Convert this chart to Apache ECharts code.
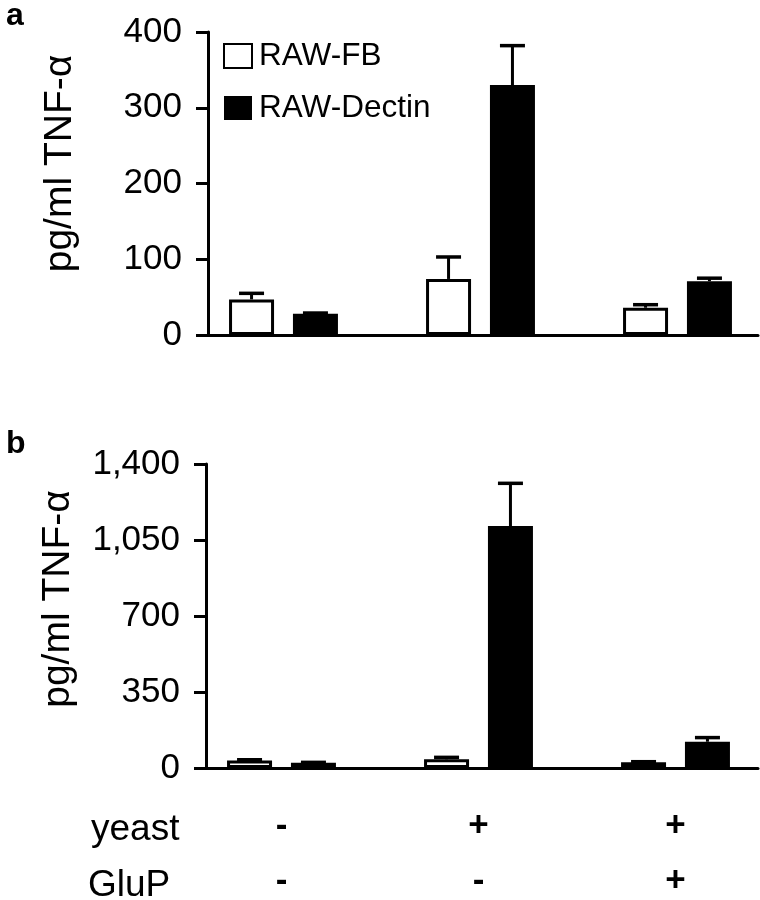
<!DOCTYPE html>
<html>
<head>
<meta charset="utf-8">
<script src="https://cdn.jsdelivr.net/npm/echarts@6/dist/echarts.min.js"></script>
<style>
html,body{margin:0;padding:0;background:#fff;}
#chart{width:760px;height:900px;}
</style>
</head>
<body>
<div id="chart"></div>
<script>
// ---- data ----
const yeastRow = ['-', '+', '+'];
const glupRow  = ['-', '-', '+'];
const seriesNames = ['RAW-FB', 'RAW-Dectin'];

// panel a
const fbA = [47, 74, 36];
const fbAErr = [8, 29, 4];
const dectinA = [28, 330, 71];
const dectinAErr = [1, 52, 4];
const yTicksA = [0, 100, 200, 300, 400];

// panel b
const fbB = [34, 40, 26];
const fbBErr = [4, 9, 3];
const dectinB = [24, 1114, 121];
const dectinBErr = [2, 197, 19];
const yTicksB = [0, 350, 700, 1050, 1400];

const yName = 'pg/ml TNF-\u03b1';

// ---- styles ----
const FONT = 'Liberation Sans, Arial, sans-serif';
const BAR_W = 45;
const BAR_GAP = 0.42;
const BAR_OFFSET = (BAR_W + BAR_W * BAR_GAP) / 2;
const CAP = 12.5;
const LW = 3;

const categories = yeastRow.map((y, i) => y + '\n' + glupRow[i]);

function errRender(sign) {
  return function (params, api) {
    const idx = api.value(0), mean = api.value(1), err = api.value(2);
    const base = api.coord([idx, mean]);
    const top = api.coord([idx, mean + err]);
    const x = base[0] + sign * BAR_OFFSET;
    return {
      type: 'group',
      children: [
        {type: 'line', shape: {x1: x, y1: base[1], x2: x, y2: top[1]}, style: {stroke: '#000', lineWidth: 3}},
        {type: 'line', shape: {x1: x - CAP, y1: top[1], x2: x + CAP, y2: top[1]}, style: {stroke: '#000', lineWidth: 3.5}}
      ]
    };
  };
}
function errData(vals, errs) { return vals.map((v, i) => [i, v, errs[i]]); }

const hiddenAxis = {axisLine: {show: false}, axisTick: {show: false}, axisLabel: {show: false}, splitLine: {show: false}};

function visibleY(grid, ticks, fmt, shiftUp) {
  return {
    gridIndex: grid, type: 'value',
    min: ticks[0], max: ticks[ticks.length - 1], interval: ticks[1] - ticks[0],
    axisLine: {show: true, lineStyle: {color: '#000', width: LW}},
    axisTick: {show: true, length: 12, lineStyle: {color: '#000', width: LW}},
    axisLabel: {color: '#000', fontSize: 35, fontFamily: FONT, margin: 26, formatter: fmt},
    splitLine: {show: false},
    name: yName, nameLocation: 'middle', nameGap: 128,
    nameTextStyle: {color: '#000', fontSize: 39, fontFamily: FONT, padding: [0, 0, 0, shiftUp]}
  };
}
function lineX(grid) {
  return {
    gridIndex: grid, type: 'value', min: 0, max: 1,
    axisLine: {show: true, lineStyle: {color: '#000', width: LW}},
    axisTick: {show: false}, axisLabel: {show: false}, splitLine: {show: false}
  };
}

const option = {
  backgroundColor: '#fff',
  animation: false,
  textStyle: {fontFamily: FONT},
  grid: [
    {left: 185, width: 591, top: 32, height: 303, outerBoundsMode: 'none', containLabel: false},
    {left: 208, width: 550, top: 32, height: 303, outerBoundsMode: 'none', containLabel: false},
    {left: 183, width: 591, top: 464, height: 304, outerBoundsMode: 'none', containLabel: false},
    {left: 206, width: 552, top: 464, height: 304, outerBoundsMode: 'none', containLabel: false}
  ],
  xAxis: [
    Object.assign({gridIndex: 0, type: 'category', data: categories}, hiddenAxis),
    lineX(1),
    {
      gridIndex: 2, type: 'category', data: categories,
      axisLine: {show: false}, axisTick: {show: false}, splitLine: {show: false},
      axisLabel: {show: true, color: '#000', fontSize: 35, fontWeight: 'bold', fontFamily: FONT, lineHeight: 55, margin: 31}
    },
    lineX(3)
  ],
  yAxis: [
    Object.assign({gridIndex: 0, type: 'value', min: yTicksA[0], max: yTicksA[yTicksA.length - 1]}, hiddenAxis),
    visibleY(1, yTicksA, v => String(v), 40),
    Object.assign({gridIndex: 2, type: 'value', min: yTicksB[0], max: yTicksB[yTicksB.length - 1]}, hiddenAxis),
    visibleY(3, yTicksB, v => v.toLocaleString('en-US'), 34)
  ],
  legend: {
    left: 223, top: 40, orient: 'vertical', padding: 0,
    itemWidth: 28, itemHeight: 24, itemGap: 20,
    icon: 'rect',
    textStyle: {color: '#000', fontSize: 31.5, fontFamily: FONT, lineHeight: 24, padding: [0, 0, 0, 2]},
    data: [
      {name: seriesNames[0], itemStyle: {color: '#fff', borderColor: '#000', borderWidth: 2}},
      {name: seriesNames[1], itemStyle: {color: '#000', borderWidth: 0}}
    ]
  },
  graphic: [
    {type: 'text', left: 6, top: 0, style: {text: 'a', font: 'bold 32px ' + FONT, fill: '#000'}},
    {type: 'text', left: 6, top: 428, style: {text: 'b', font: 'bold 32px ' + FONT, fill: '#000'}},
    {type: 'text', left: 91, top: 811, style: {text: 'yeast', font: '37px ' + FONT, fill: '#000'}},
    {type: 'text', left: 88, top: 867, style: {text: 'GluP', font: '37px ' + FONT, fill: '#000'}}
  ],
  series: [
    {name: seriesNames[0], type: 'bar', xAxisIndex: 0, yAxisIndex: 0, data: fbA, barWidth: BAR_W, barGap: (BAR_GAP * 100) + '%',
      itemStyle: {color: '#fff', borderColor: '#000', borderWidth: 3}},
    {name: seriesNames[1], type: 'bar', xAxisIndex: 0, yAxisIndex: 0, data: dectinA, barWidth: BAR_W, barGap: (BAR_GAP * 100) + '%',
      itemStyle: {color: '#000'}},
    {type: 'custom', xAxisIndex: 0, yAxisIndex: 0, renderItem: errRender(-1), data: errData(fbA, fbAErr), z: 3},
    {type: 'custom', xAxisIndex: 0, yAxisIndex: 0, renderItem: errRender(1), data: errData(dectinA, dectinAErr), z: 3},

    {name: seriesNames[0], type: 'bar', xAxisIndex: 2, yAxisIndex: 2, data: fbB, barWidth: BAR_W, barGap: (BAR_GAP * 100) + '%',
      itemStyle: {color: '#fff', borderColor: '#000', borderWidth: 3}},
    {name: seriesNames[1], type: 'bar', xAxisIndex: 2, yAxisIndex: 2, data: dectinB, barWidth: BAR_W, barGap: (BAR_GAP * 100) + '%',
      itemStyle: {color: '#000'}},
    {type: 'custom', xAxisIndex: 2, yAxisIndex: 2, renderItem: errRender(-1), data: errData(fbB, fbBErr), z: 3},
    {type: 'custom', xAxisIndex: 2, yAxisIndex: 2, renderItem: errRender(1), data: errData(dectinB, dectinBErr), z: 3}
  ]
};

const chart = echarts.init(document.getElementById('chart'), null, {renderer: 'canvas'});
chart.setOption(option);
</script>
</body>
</html>
